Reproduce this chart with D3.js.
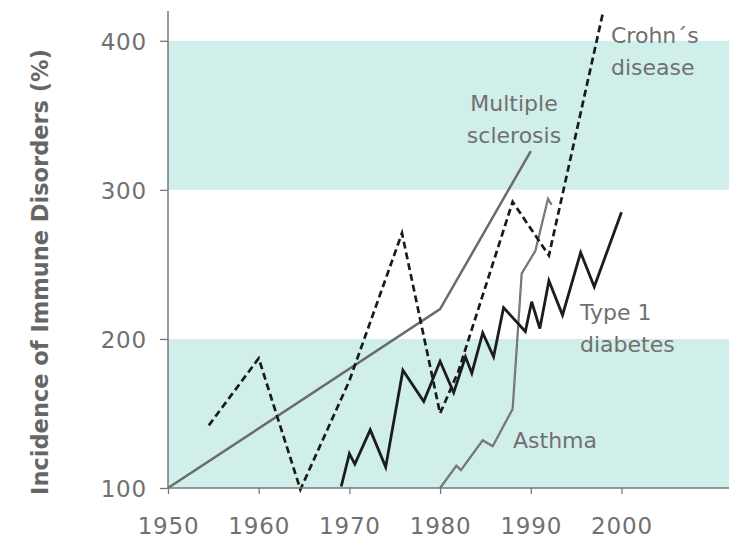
<!DOCTYPE html>
<html>
<head>
<meta charset="utf-8">
<script src="https://cdn.jsdelivr.net/npm/d3@7"></script>
<style>
  html, body { margin: 0; padding: 0; background: #fff; }
  svg { display: block; }
  text { font-family: "DejaVu Sans", sans-serif; }
</style>
</head>
<body>
<svg id="chart" width="729" height="540"></svg>
<script>
// ---- Data ----
const xTicks = [1950, 1960, 1970, 1980, 1990, 2000];
const yTicks = [100, 200, 300, 400];
const bands = [[100, 200], [300, 400]];

const crohnsYears  = [1954.5, 1960, 1964.6, 1970, 1975.8, 1980, 1982, 1988, 1992, 1998];
const crohnsValues = [142, 187, 99, 172, 271, 150, 178, 292, 256, 420];

const msYears  = [1950, 1980, 1990];
const msValues = [100, 220, 326];

const asthmaYears  = [1980, 1981.8, 1982.3, 1984.7, 1985.8, 1988, 1989, 1990.5, 1991.9, 1992.3];
const asthmaValues = [100, 115, 112, 132, 128, 153, 244, 259, 294, 290];

const t1dYears  = [1969.1, 1970, 1970.6, 1972.3, 1974, 1975.9, 1978.2, 1980, 1981.5, 1982.8, 1983.5, 1984.7, 1985.9, 1987, 1989.4, 1990.1, 1991, 1992, 1993.5, 1995.5, 1997, 2000];
const t1dValues = [101, 123, 116, 139, 114, 179, 158, 185, 164, 188, 177, 204, 188, 221, 205, 225, 207, 239, 216, 258, 235, 285];

const yTitle = "Incidence of Immune Disorders (%)";

// ---- Drawing ----
const svg = d3.select("#chart");
const x = d3.scaleLinear().domain([1950, 2012]).range([168, 730.3]);
const y = d3.scaleLinear().domain([100, 420]).range([488, 11]);

const zip = (xs, vs) => xs.map((d, i) => [d, vs[i]]);
const line = d3.line().x(d => x(d[0])).y(d => y(d[1]));

// bands
svg.append("g").selectAll("rect").data(bands).join("rect")
  .attr("x", x(1950))
  .attr("width", 729 - x(1950))
  .attr("y", d => y(d[1]))
  .attr("height", d => y(d[0]) - y(d[1]))
  .attr("fill", "#d0efea");

// series
svg.append("path").datum(zip(msYears, msValues))
  .attr("d", line).attr("fill", "none")
  .attr("stroke", "#6b6b6b").attr("stroke-width", 2.5);

svg.append("path").datum(zip(asthmaYears, asthmaValues))
  .attr("d", line).attr("fill", "none")
  .attr("stroke", "#6a6a6a").attr("stroke-width", 2.2);
svg.append("path").datum(zip(asthmaYears, asthmaValues))
  .attr("d", line).attr("fill", "none")
  .attr("stroke", "#b5b5b5").attr("stroke-width", 0.8)
  .attr("stroke-dasharray", "1,1.5");

svg.append("path").datum(zip(crohnsYears, crohnsValues))
  .attr("d", line).attr("fill", "none")
  .attr("stroke", "#1a1a1a").attr("stroke-width", 2.7)
  .attr("stroke-dasharray", "7,4");

svg.append("path").datum(zip(t1dYears, t1dValues))
  .attr("d", line).attr("fill", "none")
  .attr("stroke", "#1c1c1c").attr("stroke-width", 2.8)
  .attr("stroke-linejoin", "miter");

// axes
const axisColor = "#777";
const gx = svg.append("g").attr("transform", `translate(0,${y(100)})`)
  .call(d3.axisBottom(x).tickValues(xTicks).tickFormat(d3.format("d")).tickSize(6).tickPadding(24));
const gy = svg.append("g").attr("transform", `translate(${x(1950)},0)`)
  .call(d3.axisLeft(y).tickValues(yTicks).tickSize(8).tickPadding(13));

[gx, gy].forEach(g => {
  g.select(".domain").remove();
  g.selectAll(".tick line").attr("stroke", axisColor).attr("stroke-width", 1.3);
  g.selectAll(".tick text").attr("fill", "#707070")
    .style("font-family", "'DejaVu Sans', sans-serif").style("font-size", "23px")
    .style("letter-spacing", "0.8px");
});
gy.selectAll(".tick text").attr("dy", "0.36em");

svg.append("line").attr("x1", x(1950)).attr("x2", 729)
  .attr("y1", y(100)).attr("y2", y(100))
  .attr("stroke", axisColor).attr("stroke-width", 1.5);
svg.append("line").attr("x1", x(1950)).attr("x2", x(1950))
  .attr("y1", y(100)).attr("y2", y(420))
  .attr("stroke", axisColor).attr("stroke-width", 1.5);

// y title
svg.append("text")
  .attr("transform", `translate(48,272) rotate(-90)`)
  .attr("text-anchor", "middle")
  .attr("fill", "#666")
  .style("font-weight", "bold").style("font-size", "22.5px")
  .text(yTitle);

// series labels
const labelStyle = sel => sel.attr("fill", "#707070").style("font-size", "22px");
const labels = [
  { lines: ["Crohn\u00B4s", "disease"], x: 611, y: 43, anchor: "start" },
  { lines: ["Multiple", "sclerosis"], x: 514, y: 111, anchor: "middle" },
  { lines: ["Type 1", "diabetes"], x: 580, y: 320, anchor: "start" },
  { lines: ["Asthma"], x: 513, y: 448, anchor: "start" }
];
labels.forEach(l => {
  const t = svg.append("text").attr("text-anchor", l.anchor).call(labelStyle);
  l.lines.forEach((s, i) => {
    t.append("tspan").attr("x", l.x).attr("y", l.y + i * 32).text(s);
  });
});
</script>
</body>
</html>
